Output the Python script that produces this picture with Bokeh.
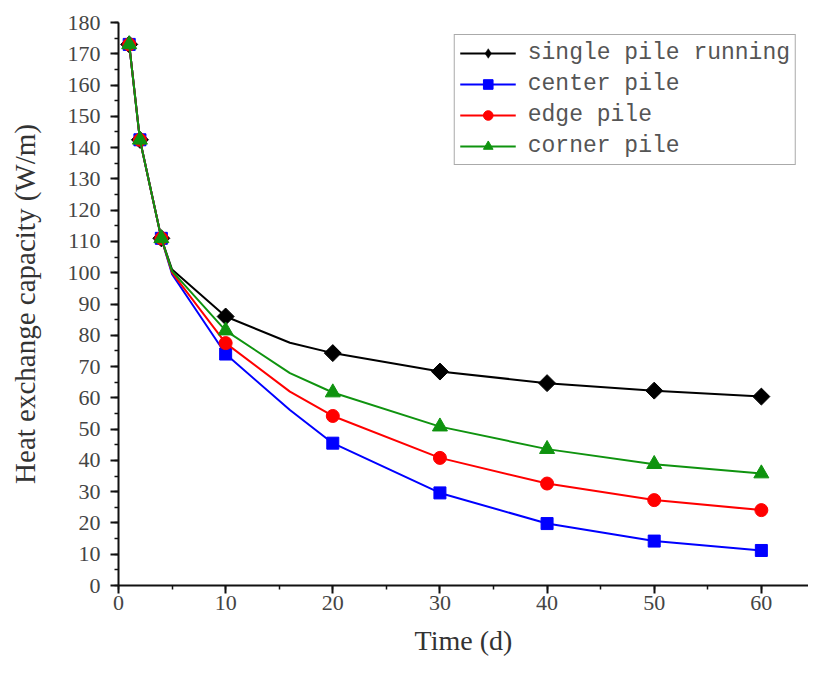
import numpy as np
from bokeh.plotting import figure
from bokeh.models import Range1d, SingleIntervalTicker, Legend, LegendItem
from bokeh.embed import file_html
from bokeh.resources import INLINE

# ---- data ----
days = [1, 2, 4, 10, 20, 30, 40, 50, 60]
single = [173, 142.5, 111, 86, 74.3, 68.4, 64.7, 62.3, 60.4]
center = [173, 142.5, 111, 74, 45.5, 29.6, 19.8, 14.2, 11.2]
edge = [173, 142.5, 111, 77.5, 54.2, 40.8, 32.6, 27.3, 24.1]
corner = [173, 142.5, 111, 81.5, 61.7, 50.8, 43.6, 38.8, 35.8]

# unmarked points where the drawn curves bend
line_days = [1, 2, 4, 5, 10, 16, 20, 30, 40, 50, 60]
single_line = [173, 142.5, 111, 101, 86, 77.6, 74.3, 68.4, 64.7, 62.3, 60.4]
center_line = [173, 142.5, 111, 99.5, 74, 56.1, 45.5, 29.6, 19.8, 14.2, 11.2]
edge_line = [173, 142.5, 111, 100, 77.5, 62.0, 54.2, 40.8, 32.6, 27.3, 24.1]
corner_line = [173, 142.5, 111, 100.5, 81.5, 67.9, 61.7, 50.8, 43.6, 38.8, 35.8]

labels = ["single pile running", "center pile", "edge pile", "corner pile"]
x_title = "Time (d)"
y_title = "Heat exchange capacity (W/m)"

p = figure(width=808, height=665, x_range=Range1d(0, 64.4), y_range=Range1d(0, 180),
           output_backend="svg", toolbar_location=None,
           min_border_left=118, min_border_top=22, min_border_right=0, min_border_bottom=80)
p.outline_line_color = None
p.xgrid.visible = False
p.ygrid.visible = False
p.background_fill_color = "white"

series = [
    (labels[0], single, single_line, "#000000", "square", 12, np.pi / 4),
    (labels[1], center, center_line, "#0000FF", "square", 12, 0),
    (labels[2], edge, edge_line, "#FF0000", "circle", 13, 0),
    (labels[3], corner, corner_line, "#0F930F", "triangle", 15, 0),
]

items = []
for i, (lab, vals, lvals, col, mk, sz, ang) in enumerate(series):
    lr = p.line(line_days, lvals, line_color=col, line_width=2, line_join="round")
    sr = p.scatter(days, vals, marker=mk, size=sz, angle=ang, fill_color=col, line_color=col)
    if i == 0:
        # legend swatch: an upright diamond (zero-size on the plot itself)
        kr = p.scatter(days, vals, marker="diamond", size=0, fill_color=col,
                       line_color=col, line_width=0.5)
        items.append(LegendItem(label=lab, renderers=[lr, kr]))
    else:
        items.append(LegendItem(label=lab, renderers=[lr, sr]))

lg = Legend(items=items, location="top_right")
lg.margin = 12
lg.padding = 5
lg.spacing = 5
lg.glyph_width = 56
lg.glyph_height = 24
lg.label_height = 24
lg.label_standoff = 12
lg.label_text_font = "Liberation Mono"
lg.label_text_font_size = "23px"
lg.label_text_color = "#555555"
lg.border_line_color = "#555555"
lg.border_line_width = 1.5
lg.background_fill_alpha = 1
p.add_layout(lg, "center")

for ax in (p.xaxis[0], p.yaxis[0]):
    ax.ticker = SingleIntervalTicker(interval=10, num_minor_ticks=2)
    ax.axis_line_width = 2
    ax.axis_line_color = "#111111"
    ax.major_tick_line_width = 2
    ax.major_tick_line_color = "#111111"
    ax.minor_tick_line_width = 1.5
    ax.minor_tick_line_color = "#111111"
    ax.major_tick_out = 8
    ax.major_tick_in = 0
    ax.minor_tick_out = 4
    ax.minor_tick_in = 0
    ax.major_label_text_font = "Liberation Serif"
    ax.major_label_text_font_size = "22px"
    ax.major_label_text_color = "#444444"
    ax.axis_label_text_font = "Liberation Serif"
    ax.axis_label_text_font_style = "normal"
    ax.axis_label_text_color = "#333333"

p.xaxis.axis_label = x_title
p.yaxis.axis_label = y_title
p.xaxis.axis_label_text_font_size = "28px"
p.yaxis.axis_label_text_font_size = "29px"
p.xaxis.major_label_standoff = 2
p.xaxis.axis_label_standoff = 12
p.yaxis.major_label_standoff = 10
p.yaxis.axis_label_standoff = 24

open("out.html", "w").write(file_html(p, INLINE))
